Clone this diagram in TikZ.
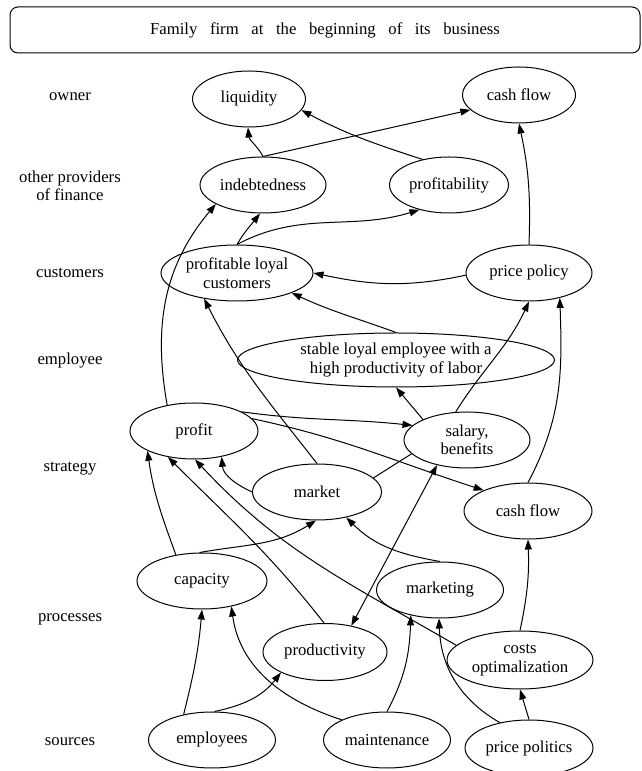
\documentclass[tikz,border=0pt]{standalone}
\usepackage{fontspec}
\setmainfont{Liberation Serif}
\usetikzlibrary{shapes.geometric,arrows.meta}
\begin{document}
\begin{tikzpicture}[x=1pt,y=1pt,
  every node/.style={font=\fontsize{16.7}{18.5}\selectfont},
  ell/.style={ellipse, draw, line width=1pt, inner sep=0pt, minimum height=56pt, align=center},
  lbl/.style={align=center, inner sep=0pt},
  arr/.style={-{Triangle[length=10pt,width=7pt]}, line width=1pt},
  darr/.style={{Triangle[length=10pt,width=7pt]}-{Triangle[length=10pt,width=7pt]}, line width=1pt},
  plainline/.style={line width=1pt}]
\useasboundingbox (0,0) rectangle (642,771);

% title
\node[draw, rounded corners=8pt, line width=1pt, minimum width=630pt, minimum height=46pt, inner sep=0pt] (title) at (325,741)
  {\spaceskip=12.6pt Family firm at the beginning of its business};

% row labels
\node[lbl] (lowner) at (70,674) {owner};
\node[lbl] (lfin) at (70,585) {other providers\\of finance};
\node[lbl] (lcust) at (70,498) {customers};
\node[lbl] (lemp) at (70,410) {employee};
\node[lbl] (lstrat) at (70,302) {strategy};
\node[lbl] (lproc) at (70,152) {processes};
\node[lbl] (lsrc) at (70,29) {sources};

% nodes
\node[ell, minimum width=113pt] (liquidity) at (249,672) {liquidity};
\node[ell, minimum width=113pt] (cft) at (519,676) {cash flow};
\node[ell, minimum width=126pt] (indebt) at (263,586) {indebtedness};
\node[ell, minimum width=119pt] (profitab) at (449,586) {profitability};
\node[ell, minimum width=152pt] (plc) at (237,498) {profitable loyal\\customers};
\node[ell, minimum width=126pt] (pp) at (529,498) {price policy};
\node[ell, minimum width=317pt, minimum height=54pt] (stable) at (396,411) {stable loyal employee with a\\high productivity of labor};
\node[ell, minimum width=128pt] (profit) at (194,340) {profit};
\node[ell, minimum width=126pt] (salary) at (467,331) {salary,\\benefits};
\node[ell, minimum width=129pt] (market) at (317,279) {market};
\node[ell, minimum width=128pt] (cfs) at (528,260) {cash flow};
\node[ell, minimum width=130pt] (capacity) at (202,190) {capacity};
\node[ell, minimum width=127pt] (marketing) at (440,181) {marketing};
\node[ell, minimum width=124pt, minimum height=57pt] (productivity) at (325,119) {productivity};
\node[ell, minimum width=146pt, minimum height=58pt] (costs) at (520,111) {costs\\optimalization};
\node[ell, minimum width=127pt] (employees) at (212,31) {employees};
\node[ell, minimum width=127pt] (maintenance) at (387,31) {maintenance};
\node[ell, minimum width=128pt] (pricepolitics) at (529,23) {price politics};

% edges
\draw[arr] (indebt.north) to[out=118,in=-85] (liquidity.-92);
\draw[arr] (indebt.north) -- (cft.197);
\draw[arr] (profitab.136) to[out=162,in=-28] (liquidity.-12);
\draw[arr] (pp.north) to[out=88,in=-78] (cft.-90);
\draw[arr] (plc.north) to[out=60,in=-128] (indebt.-96);
\draw[arr] (plc.north) to[out=28,in=-163] (profitab.220);
\draw[arr] (profit.136) to[out=100,in=-130] (indebt.202);
\draw[arr] (pp.182) to[out=192,in=-12] (plc.east);
\draw[arr] (stable.north) to[out=160,in=-25] (plc.-20);
\draw[arr] (market.north) to[out=128,in=-63] (plc.-142);
\draw[arr] (salary.155) -- (stable.-90);
\draw[arr] (salary.112) to[out=58,in=-115] (pp.-90);
\draw[arr] (cfs.north) to[out=62,in=-88] (pp.-39);
\draw[arr] (profit.22) to[out=-8,in=174] (salary.165);
\draw[arr] (profit.12) to[out=-12,in=162] (cfs.155);
\draw[arr] (market.west) to[out=155,in=-85] (profit.-43);
\draw[plainline] (market.14) -- (salary.194);
\draw[darr] (productivity.45) -- (salary.220);
\draw[arr] (capacity.95) to[out=10,in=-148] (market.-92);
\draw[arr] (marketing.north) to[out=170,in=-45] (market.-41);
\draw[arr] (capacity.135) to[out=110,in=-82] (profit.203);
\draw[arr] (productivity.92) to[out=128,in=-45] (profit.225);
\draw[arr] (costs.167) to[out=150,in=-47] (profit.-88);
\draw[arr] (costs.north) to[out=78,in=-88] (cfs.south);
\draw[arr] (employees.138) to[out=76,in=-95] (capacity.south);
\draw[arr] (employees.85) to[out=12,in=-128] (productivity.205);
\draw[arr] (maintenance.156) to[out=162,in=-82] (capacity.-41);
\draw[arr] (maintenance.north) to[out=62,in=-92] (marketing.221);
\draw[arr] (pricepolitics.139) to[out=150,in=-88] (marketing.-92);
\draw[arr] (pricepolitics.north) -- (costs.south);
\end{tikzpicture}
\end{document}
